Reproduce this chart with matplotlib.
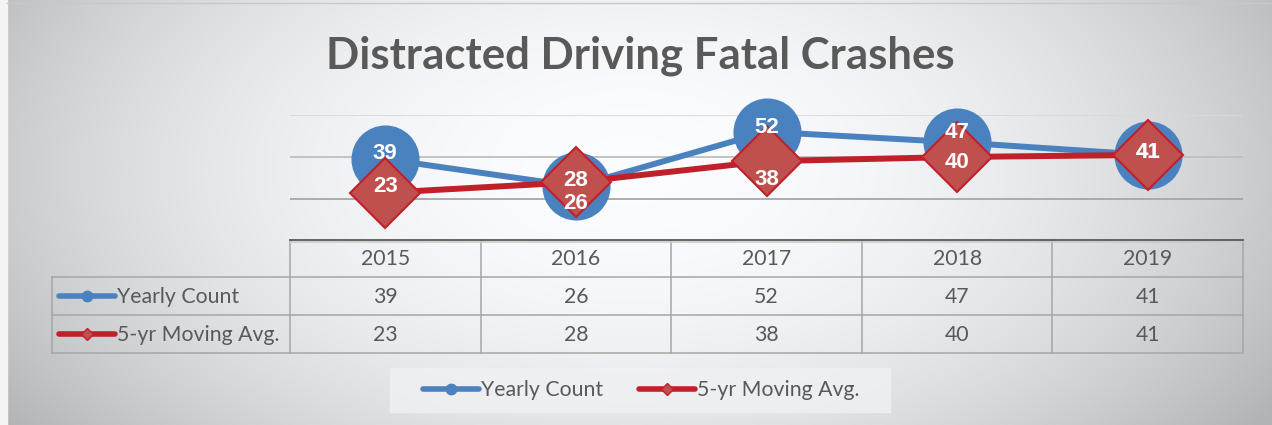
import numpy as np
import matplotlib.pyplot as plt
from matplotlib.patches import Rectangle

years = ['2015', '2016', '2017', '2018', '2019']
yearly = [39, 26, 52, 47, 41]
moving = [23, 28, 38, 40, 41]
series_names = ['Yearly Count', '5-yr Moving Avg.']
title = 'Distracted Driving Fatal Crashes'

# label nudges in pixels (+ = down)
yearly_off = [-6, 17, -4, -10, -2]
moving_off = [-6, -2, 18, 6, -2]

W, H = 1272, 425
blue = '#4a81bf'
red_line = '#c0202a'
red_fill = '#c0504d'
txt = '#595959'
grid_c = '#a6a6a6'
fs = 15.3

fig = plt.figure(figsize=(W / 100, H / 100), dpi=100)

# overlay axes in pixel coords for background, table and legend
ov = fig.add_axes([0, 0, 1, 1])
ov.set_xlim(0, W)
ov.set_ylim(H, 0)
ov.axis('off')

yy, xx = np.mgrid[0:H, 0:W]
r2 = ((xx - 630) / 700.0) ** 2 + ((yy - 170) / 400.0) ** 2
v = 1 - 0.24 * np.clip(r2, 0, 1.2)
bg = np.dstack([v * 0.985, v * 0.99, v * 1.0])
ov.imshow(bg, extent=[0, W, H, 0], aspect='auto', zorder=0)
ov.add_patch(Rectangle((0, 0), 7, H, color='#f4f4f4', zorder=0.5))
ov.plot([7, W], [3, 3], color='#c8c8c8', lw=1, zorder=0.5)

ov.text(640, 56, title, ha='center', va='center', fontsize=31.5,
        fontweight='bold', color=txt, family='Lato')

# table
col_x = np.linspace(290, 1243, len(years) + 1)
row_y = [240, 277, 315, 353]
lw = 1.1
for x in col_x:
    ov.plot([x, x], [row_y[0], row_y[-1]], color=grid_c, lw=lw, zorder=1)
for y in row_y[1:]:
    ov.plot([52, 1243], [y, y], color=grid_c, lw=lw, zorder=1)
ov.plot([290, 1243], [242, 242], color='#c8c8c8', lw=lw, zorder=1)
ov.plot([52, 52], [row_y[1], row_y[-1]], color=grid_c, lw=lw, zorder=1)
ov.plot([290, 1243], [240, 240], color='#595959', lw=1.3, zorder=2)

for i, yr in enumerate(years):
    cx = (col_x[i] + col_x[i + 1]) / 2
    ov.text(cx, 259, yr, ha='center', va='center', fontsize=fs, color=txt, family='Lato')
    ov.text(cx, 297, str(yearly[i]), ha='center', va='center', fontsize=fs, color=txt, family='Lato')
    ov.text(cx, 335, str(moving[i]), ha='center', va='center', fontsize=fs, color=txt, family='Lato')


def key(x0, x1, y, color, marker, mfc, ms, name):
    ov.plot([x0, x1], [y, y], color=color, lw=4, solid_capstyle='round', zorder=3)
    ov.plot([(x0 + x1) / 2], [y], marker=marker, ms=ms, color=mfc, mec=color, mew=1, zorder=4)
    ov.text(x1 + 2, y + 1, name, ha='left', va='center', fontsize=fs, color=txt, family='Lato')


key(59, 115, 296, blue, 'o', blue, 7.5, series_names[0])
key(59, 115, 334, red_line, 'D', red_fill, 6, series_names[1])

# legend
ov.add_patch(Rectangle((390, 368), 500, 44, color='#f0f1f2', alpha=0.8, zorder=1))
key(423, 479, 389, blue, 'o', blue, 7.5, series_names[0])
key(639, 695, 389, red_line, 'D', red_fill, 6, series_names[1])

# chart
ax = fig.add_axes([290 / W, 1 - 241 / H, 953 / W, 126 / H])
ax.patch.set_alpha(0)
ax.set_xlim(-0.5, 4.5)
ax.set_ylim(0, 60)
ax.axis('off')
for g, c in zip([20, 40, 60], ['#a6a6a6', '#bfbfbf', '#d9d9d9']):
    ax.axhline(g, color=c, lw=1.3, zorder=1)

x = np.arange(len(years))
ax.plot(x, yearly, color=blue, lw=4.3, marker='o', ms=48, mfc=blue, mec=blue,
        clip_on=False, zorder=3)
ax.plot(x, moving, color=red_line, lw=4.3, marker='D', ms=36, mfc=red_fill,
        mec=red_line, mew=1.5, clip_on=False, zorder=4)

for i in range(len(years)):
    ax.annotate(str(yearly[i]), (x[i], yearly[i]), xytext=(0, -yearly_off[i]),
                textcoords='offset pixels', ha='center', va='center', fontsize=16,
                fontweight='bold', color='white', family='Liberation Sans', zorder=5)
    ax.annotate(str(moving[i]), (x[i], moving[i]), xytext=(0, -moving_off[i]),
                textcoords='offset pixels', ha='center', va='center', fontsize=16,
                fontweight='bold', color='white', family='Liberation Sans', zorder=6)

fig.savefig('out.png', dpi=100)
